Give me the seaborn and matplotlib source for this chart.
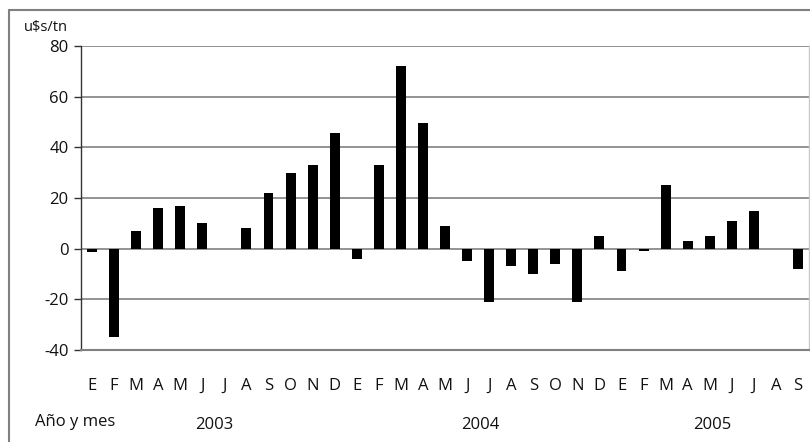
"""Diferencia de precios mensual, 2003-2005 (u$s/tn). Guarda out.png."""
import pandas as pd
import matplotlib.pyplot as plt
import seaborn as sns
from matplotlib.lines import Line2D

anios = ['2003', '2004', '2005']
meses = ['E', 'F', 'M', 'A', 'M', 'J', 'J', 'A', 'S', 'O', 'N', 'D']
valores_2003 = [-1.5, -35, 7, 16, 17, 10, 0, 8, 22, 30, 33, 45.5]
valores_2004 = [-4, 33, 72, 49.5, 9, -5, -21, -7, -10, -6, -21, 5]
valores_2005 = [-9, -1, 25, 3, 5, 11, 15, 0, -8]

etiquetas, claves, valores = [], [], []
for anio, vals in zip(anios, [valores_2003, valores_2004, valores_2005]):
    for i, v in enumerate(vals):
        etiquetas.append(meses[i])
        claves.append(f'{anio}-{i + 1:02d}')
        valores.append(v)
df = pd.DataFrame({'mes': claves, 'valor': valores})

sns.set_theme(style='white')
plt.rcParams['font.family'] = ['Open Sans', 'DejaVu Sans']
plt.rcParams['axes.unicode_minus'] = False

fig = plt.figure(figsize=(8.1, 4.42), dpi=100)
ax = fig.add_axes([0.1, 0.2081, 0.8988, 0.6878])

sns.barplot(data=df, x='mes', y='valor', color='black', width=0.45,
            saturation=1, linewidth=0, ax=ax)

ax.set_ylim(-40, 80)
ax.set_yticks(range(-40, 81, 20))
ax.yaxis.grid(True, color='#808080', linewidth=1.2)
ax.set_axisbelow(True)
ax.set_xticks(range(len(etiquetas)))
ax.set_xticklabels(etiquetas, fontsize=12, color='#111111')
ax.tick_params(axis='x', length=0, pad=20)
ax.tick_params(axis='y', length=5, width=1, color='#333333', left=True,
               labelsize=12, labelcolor='#111111', pad=4)
ax.set_xlabel('')
ax.set_ylabel('')

ax.spines['left'].set_color('#333333')
ax.spines['left'].set_linewidth(1)
ax.spines['bottom'].set_color('#808080')
ax.spines['bottom'].set_linewidth(1.5)
ax.spines['top'].set_visible(False)
ax.spines['right'].set_color('#c8c8c8')
ax.spines['right'].set_linewidth(1)

# años bajo los meses
for anio, xpos in zip(anios, [5.55, 17.6, 28.1]):
    ax.text(xpos, -0.245, anio, transform=ax.get_xaxis_transform(),
            ha='center', va='center', fontsize=12, color='#111111')
fig.text(35 / 810, 1 - 422 / 442, 'Año y mes', ha='left', va='center',
         fontsize=12, color='#111111')
fig.text(24 / 810, 1 - 28 / 442, 'u$s/tn', ha='left', va='center',
         fontsize=10.5, color='#111111')

# marco exterior
y_top = 1 - 10 / 442
x_left = 9 / 810
fig.add_artist(Line2D([x_left, x_left], [0, y_top], color='#808080', lw=1.5))
fig.add_artist(Line2D([x_left, 1], [y_top, y_top], color='#808080', lw=1.5))

fig.savefig('out.png', dpi=100)
